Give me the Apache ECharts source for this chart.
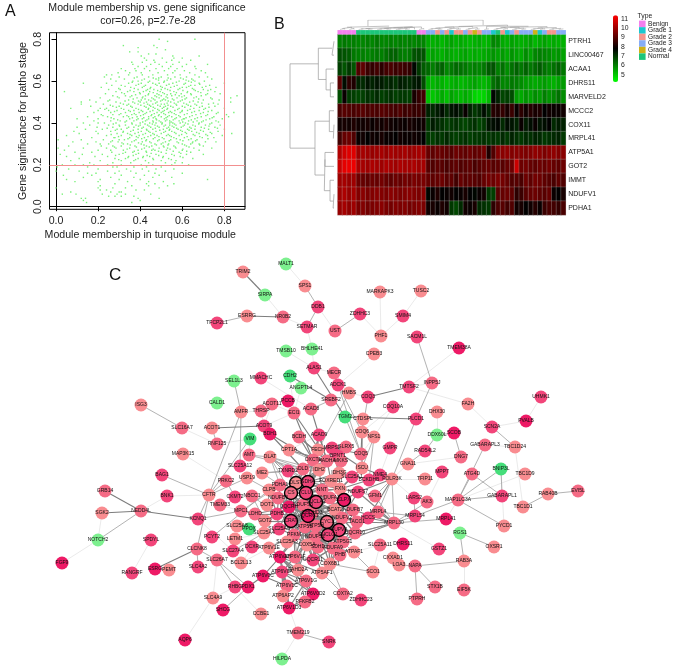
<!DOCTYPE html>
<html><head><meta charset="utf-8">
<style>html,body{margin:0;padding:0;background:#fff}#c{width:677px;height:670px}</style>
<script src="https://cdn.jsdelivr.net/npm/echarts@6/dist/echarts.min.js"></script>
</head><body><div id="c"></div>
<script>
/* ---------- A: scatter, rows of [gene significance, [module membership ...]] ---------- */
const scatterRows = [
[.80,[.49,.66]],[.79,[.53]],[.77,[.32,.465]],[.76,[.48,.39]],[.75,[.52]],[.74,[.39,.35]],[.73,[.44,.475]],[.72,[.555,.68,.405]],
[.71,[.56,.505,.42,.6]],[.70,[.55,.43,.64,.465]],[.69,[.41,.47,.525,.585,.36]],[.68,[.365,.45,.555,.62,.72,.49]],[.67,[.43,.505,.6,.39,.545,.66]],[.66,[.375,.475,.535,.575,.665,.42,.31]],
[.65,[.33,.445,.515,.61,.69,.565,.38]],[.64,[.295,.405,.485,.555,.635,.35,.71]],[.63,[.265,.345,.46,.53,.59,.66,.24,.41]],[.62,[.23,.3,.385,.5,.565,.62,.72,.44,.68]],[.61,[.325,.42,.475,.545,.605,.645,.26,.74]],
[.60,[.285,.365,.445,.515,.585,.66,.705,.39,.63]],[.59,[.13,.345,.405,.49,.555,.615,.68,.46,.8,.24]],[.58,[.265,.38,.425,.525,.575,.64,.73,.48,.31,.66]],[.57,[.215,.355,.45,.505,.6,.695,.545,.41,.76,.62]],
[.56,[.305,.39,.465,.53,.58,.655,.735,.435,.25,.7,.5]],[.55,[.285,.37,.415,.495,.56,.625,.675,.755,.34,.445,.04]],[.54,[.235,.325,.4,.48,.515,.595,.64,.72,.545,.44,.78]],[.53,[.27,.36,.425,.47,.55,.61,.69,.5,.585,.33,.86]],
[.52,[.21,.3,.385,.455,.53,.575,.655,.735,.49,.62,.83,.41]],[.51,[.255,.345,.405,.505,.56,.6,.7,.44,.775,.52,.47,.16]],[.50,[.19,.285,.365,.43,.48,.545,.635,.675,.83,.58,.4,.12]],
[.49,[.225,.32,.39,.46,.515,.57,.62,.725,.345,.66,.12,.435,.5,.77]],[.48,[.165,.27,.355,.42,.495,.545,.6,.695,.64,.45,.3,.755,.52]],[.47,[.07,.24,.31,.38,.44,.53,.585,.655,.47,.71,.505,.8,.21]],
[.46,[.2,.29,.345,.405,.46,.515,.565,.625,.68,.74,.37,.49,.6,.25]],[.45,[.26,.33,.395,.43,.48,.535,.59,.645,.77,.7,.5,.18,.55,.845]],[.44,[.215,.3,.36,.415,.455,.52,.57,.61,.72,.665,.49,.81,.27,.38]],
[.43,[.15,.245,.32,.385,.44,.5,.55,.635,.69,.75,.59,.47,.345,.82,.53]],[.42,[.1,.275,.35,.41,.475,.515,.565,.66,.605,.73,.44,.2,.39,.79,.61]],[.41,[.18,.305,.37,.425,.49,.54,.585,.63,.7,.46,.26,.335,.76,.52,.67]],
[.40,[.13,.23,.285,.4,.445,.505,.555,.615,.68,.74,.36,.475,.59,.54,.2]],[.39,[.25,.33,.38,.435,.52,.57,.65,.71,.47,.61,.3,.78,.16,.54,.4]],[.38,[.195,.27,.345,.415,.49,.535,.595,.635,.69,.755,.45,.37,.56,.1]],
[.37,[.22,.31,.39,.46,.51,.58,.66,.725,.8,.625,.43,.54,.29,.14]],[.36,[.085,.26,.355,.405,.475,.55,.6,.645,.7,.44,.32,.77,.52,.19]],[.35,[.2,.29,.375,.425,.5,.57,.62,.68,.74,.835,.34,.46,.11]],
[.34,[.05,.24,.31,.395,.45,.525,.585,.66,.72,.79,.54,.48,.36]],[.33,[.17,.275,.35,.42,.505,.56,.61,.695,.28,.75,.47,.39]],[.32,[.01,.12,.225,.325,.38,.49,.545,.63,.67,.43,.59,.3]],
[.31,[.08,.19,.295,.36,.445,.52,.575,.65,.71,.41,.26,.76]],[.30,[.15,.25,.34,.405,.47,.535,.6,.68,.5,.32,.64,.21]],[.29,[.06,.215,.31,.375,.455,.51,.56,.62,.43,.7,.27]],
[.28,[.01,.13,.285,.35,.42,.49,.57,.655,.53,.24,.74]],[.27,[.04,.2,.32,.39,.455,.525,.6,.47,.68,.26]],[.26,[.09,.17,.265,.365,.43,.5,.585,.64,.33]],
[.25,[.02,.125,.3,.38,.475,.55,.62,.22,.7]],[.24,[.05,.185,.245,.345,.415,.51,.59,.445]],[.23,[.11,.28,.39,.46,.535,.65,.33]],[.22,[.07,.21,.31,.425,.5,.57,.37]],
[.21,[.27,.355,.44,.52,.565,.6,.16]],[.20,[.03,.09,.13,.18,.245,.31,.405,.46,.55,.63]],[.19,[.005,.15,.29,.37,.43,.5,.27]],[.18,[.06,.2,.335,.41,.475,.56]],
[.17,[.0,.11,.245,.355,.44,.52,.3]],[.16,[.15,.19,.38,.47,.6,.28]],[.15,[.035,.17,.31,.42,.49]],[.14,[.13,.26,.37,.46,.55]],[.13,[.05,.3,.4,.72,.21]],
[.12,[.09,.2,.34,.51,.44]],[.11,[.28,.43,.47,.56]],[.10,[.44,.21,.36,.53]],[.09,[.0,.2,.27,.49,.33]],[.08,[.21,.24,.38,.42]],[.07,[.3,.31,.07,.26]],
[.06,[.03,.095,.29,.33,.45,.22]],[.05,[.25,.28,.31,.37]],[.04,[.12,.49,.39,.14]],[.03,[.13,.4]],[.02,[.145,.36]]
];
/* the dense middle of the cloud */
const scatterRowsDense = [
[.615,[.372,.462,.533,.592,.488]],[.605,[.408,.487,.528,.618,.652]],[.595,[.362,.438,.512,.572,.643]],[.585,[.392,.473,.537,.608,.683]],[.575,[.328,.418,.497,.562,.631,.712]],
[.565,[.372,.447,.518,.588,.648,.298]],[.555,[.352,.428,.483,.542,.603,.662,.722]],[.545,[.312,.397,.462,.507,.572,.623,.688]],[.535,[.378,.438,.489,.528,.567,.643,.712]],[.525,[.292,.352,.413,.478,.523,.598,.667]],
[.515,[.367,.423,.463,.512,.553,.613,.678,.742]],[.505,[.247,.328,.392,.451,.497,.533,.591,.652]],[.495,[.306,.374,.418,.473,.528,.562,.607,.693,.748]],[.485,[.258,.337,.403,.444,.483,.532,.573,.628,.668]],[.475,[.287,.362,.428,.462,.512,.556,.612,.682,.727]],
[.465,[.232,.322,.392,.438,.483,.527,.578,.637,.702]],[.455,[.278,.353,.412,.447,.508,.543,.598,.658,.723]],[.445,[.308,.372,.423,.467,.512,.562,.623,.687,.762]],[.435,[.223,.337,.402,.452,.487,.538,.583,.647,.712]],[.425,[.262,.363,.417,.462,.523,.572,.618,.672,.742]],
[.415,[.293,.383,.432,.478,.527,.557,.598,.643,.713]],[.405,[.328,.412,.462,.498,.547,.602,.652,.692,.772]],[.395,[.272,.362,.423,.458,.503,.563,.627,.678,.731]],[.385,[.302,.392,.442,.482,.513,.552,.604,.662,.727]],[.375,[.243,.337,.408,.472,.527,.573,.642,.705,.767]],
[.365,[.282,.367,.432,.493,.538,.592,.632,.687]],[.355,[.318,.391,.447,.512,.563,.614,.668,.733]],[.345,[.262,.352,.413,.467,.533,.597,.652,.712]],[.335,[.297,.382,.437,.489,.548,.623,.683]],[.325,[.342,.407,.462,.513,.572,.642,.722]],
[.315,[.268,.372,.427,.483,.538,.603,.663]],[.305,[.313,.392,.452,.508,.582,.648]],[.295,[.353,.418,.477,.532,.611,.683]],[.285,[.278,.382,.443,.513,.567,.632]],[.275,[.338,.407,.462,.542,.603]],[.265,[.372,.428,.487,.557,.621]],
[.255,[.318,.392,.452,.523,.593]],[.245,[.283,.367,.433,.488,.562]],[.235,[.342,.412,.507,.603]],[.225,[.298,.378,.463,.548]]
];
const scatterTicks = [0, 0.2, 0.4, 0.6, 0.8];
const scatterCutX = 0.8, scatterCutY = 0.2;

/* ---------- B: heat map ---------- */
const geneNames = ['PTRH1','LINC00467','ACAA1','DHRS11','MARVELD2','MCCC2','COX11','MRPL41','ATP5A1','GOT2','IMMT','NDUFV1','PDHA1'];
const rowPTRH1 = [6,6.1,6,6,5.9,5.9,6,5.9,6.1,5.9,5.9,6,5.9,6,5.9,6,5.9,6,5.9, 5.4,5.3,5.4,5.2,5.4,5.5,5.3,5.4,5.3,5.2,5.3,5.4,5.2,5.3,5.9,5.8,5.4,5.3,5.5,5.4,5.3,5.4,5.5,5.2,5.4,5.5,5.3,5.4,5.3,5.3];
const rowLINC = [6.7,6.6,6.5,6.1,6,6,5.9,6,6.1,6,6.2,6.4,6.4,6.1,6,6.1,6.6,6.7,6.6, 5.4,5.5,5.4,5.3,5.5,5.4,5.3,5.4,5.5,5.3,5.4,5.3,5.4,5.5,5.7,5.5,5.6,5.4,5.7,5.5,5.4,5.8,5.5,5.9,6,5.9,5.8,5.6,5.7,5.5];
const rowACAA = [6.9,6.6,7,6.6,8.9,9.1,8.6,8.5,8.7,8.4,8.7,8.8,8.6,8.7,8.6,8.5,7.7,7,6.5, 6.3,6,6.3,6.4,5.9,6.1,6.3,6.2,6.1,5.9,6,5.9,6.1,6.5,6.6,6,6.2,5.8,6.2,6.4,6.1,6.4,6.1,6.3,6.5,6.2,6,6.2,6.4,6.1];
const rowDHRS = [9,7.6,8.4,8.2,7.3,7.2,7.5,7.3,7.5,7.4,7.2,7.3,7.1,7.4,7.3,7.2,7.4,7.5,6.7, 5.4,5.2,5.4,5.3,5.1,5.3,5.4,5.2,5.3,5.4,5.5,5.3,5.2,5.4,6.2,6.4,5.9,5.9,6.1,6,5.8,5.6,5.5,5.4,5.5,5.6,5.4,5.3,5.5,5.6];
const rowMARV = [6.7,7.9,7,6.9,6.8,6.9,7.1,7,7.2,6.9,7,7.1,6.9,7,7,6.9,8.1,8.5,8.7, 5.1,5,5.2,5.4,5.1,5.5,5.3,5.2,5.4,5.2,4.8,4.7,4.8,5.2,7.7,7.3,6.8,6.9,6.7,5.6,5.4,5.7,5.5,5.8,5.6,6,5.7,5.9,6.2,5.8];
const rowMCCC = [8.8,9,8.9,8.8,8.9,9,8.8,8.9,8.8,9,8.9,8.8,8.7,8.9,8.6,8.7,8.5,8.6,8.4, 7.3,7.2,7.4,7.6,7.2,7.5,7.6,7.4,7.9,7.3,7,7.2,7.6,7.2,8.3,8.2,8.5,8.1,8.6,7.9,8.4,8,8.3,8.1,8.2,7.8,8,7.9,7.9,8];
const rowCOX = [8,8.1,8,8.2,8,8,8.1,7.9,8.1,8,8.2,8,7.9,8,7.9,8.1,8,7.9,8, 7,7.4,7.2,7.1,6.9,7,7.1,6.9,6.8,7,7.1,6.8,7,7.5,7.6,7.7,7.2,7.6,7.5,7.3,7.9,7.4,7.6,7.9,7.5,7.6,7.8,7.2,7.4,7.3];
const rowMRPL = [8.7,9.2,9.3,8.9,7.9,8,7.8,8,7.9,8.1,7.9,7.9,7.8,8,7.9,7.9,8,7.9,7.8, 7,6.9,7.1,7,7.2,7,6.9,7,7.1,6.9,7,7,7.1,7,7.1,7,7.2,7,7.3,7.1,7,7.2,7.1,7.3,7.2,7,7.1,7.2,7.3,7];
const rowATP = [10.3,10.7,10.9,10.9,10,10.1,10,9.9,10,10.1,9.9,10.1,10,10,10.1,9.9,10,10.1,10, 9.2,9.1,9.3,9.2,9.1,9,9.3,9.2,9.1,9.3,9.1,9.2,9.4,8.2,8.9,9.6,9.7,9.8,9.6,9.7,9.6,9.5,9.6,9.8,9.7,9.5,9.7,9.8,9.6,9.7];
const rowGOT = [10.6,11,11.1,11.1,10.2,10.1,10,10.2,10.1,10,10.2,10.1,10,10.2,10.1,10.1,10.2,10,10.1, 9,8.9,9.1,9,8.8,9,9.1,8.9,9,9.1,8.8,9,9.1,9.2,9,9.1,9,9.2,9.3,10.6,9.3,9.4,9.2,9.1,9.3,9.2,9.4,9.2,9.1,9.3];
const rowIMMT = [10,10.1,9.9,10,9.3,9.2,9.1,9.3,9.2,9.4,9.2,9.1,9.3,9.2,9.4,9.3,9.5,9.4,9.5, 9.2,9.1,9.2,9.3,9,9.1,8.7,9.2,9,9.1,9,8.9,9.2,9.4,9.3,9.5,9.4,9.2,8.9,9,8.8,9.3,9.1,9.4,9.3,9.1,9,8.8,9.1,8.9];
const rowNDUF = [10,10.2,9.9,10.1,9.6,9.7,9.5,9.6,9.7,9.6,9.5,9.7,9.6,9.5,9.6,9.7,9.6,9.5,9.7, 7.7,7.9,8.2,7.8,7.9,8,7.8,7.9,8.1,7.8,7.7,7.9,8,7,6.9,9,9.2,9.3,9.1,8.4,8.6,9,9.2,9.3,9.1,9,9.2,7.9,7.8,8.1];
const rowPDHA = [9.9,10.1,9.8,10,9.5,9.6,9.4,9.5,9.6,9.7,9.5,9.4,9.6,9.5,9.6,9.4,9.5,9.6,9.5, 8,8.1,7.9,8.2,8,7,6.8,7.2,8,7.9,8.1,7.2,7.1,7,8.4,8.8,9,8.7,8.9,8,8.1,7.8,8,8.3,7.9,8.6,8.8,8.7,8.5,8.8];
const heatRows = [rowPTRH1,rowLINC,rowACAA,rowDHRS,rowMARV,rowMCCC,rowCOX,rowMRPL,rowATP,rowGOT,rowIMMT,rowNDUF,rowPDHA];
const sampleType = [0,0,0,0,5,5,5,5,5,5,5,5,5,5,5,5,5,0,0,3,3,2,3,2,1,2,2,3,2,4,2,3,3,1,5,2,1,3,2,3,3,3,4,1,3,2,2,3,3];
const typeNames = ['Benign','Grade 1','Grade 2','Grade 3','Grade 4','Normal'];
const typeColors = ['#F47FEE','#1CC8CF','#F6958C','#86ADF6','#CFB216','#1CC679'];
const scaleColors = ['#00FF00','#000000','#FF0000'];
const scaleTicks = [4,5,6,7,8,9,10,11,12];
/* dendrogram merges: [child a position, child b position, child a height, child b height, merge height] */
const rowMerges = [[.5,1.5,0,0,.045],[3.5,4.5,0,0,.083],[2.5,4,0,.083,.18],[1,3.25,.045,.18,.356],[6.5,7.5,0,0,.015],[5.5,7,0,.015,.106],[8.5,9.5,0,0,.205],[11.5,12.5,0,0,.02],[10.5,12,0,.02,.09],[9,11.25,.205,.09,.22],[6.25,10.125,.106,.22,.432],[2.125,8.19,.356,.432,1]];
const colMerges = [[.5,1.5,0,0,.1],[2.5,3.5,0,0,.12],[1,3,.1,.12,.24],[4.5,5.5,0,0,.06],[6.5,7.5,0,0,.05],[5,7,.06,.05,.1],[8.5,9.5,0,0,.05],[10.5,11.5,0,0,.06],[9,11,.05,.06,.12],[12.5,13.5,0,0,.05],[14.5,15.5,0,0,.06],[13,15,.05,.06,.11],[10,14,.12,.11,.18],[12,16.5,.18,0,.22],[17.5,18.5,0,0,.1],[14.25,18,.22,.1,.27],[6,16.1,.1,.27,.3],[2,11.05,.24,.3,.36],
[19.5,20.5,0,0,.06],[21.5,22.5,0,0,.05],[20,22,.06,.05,.14],[23.5,24.5,0,0,.07],[25.5,26.5,0,0,.05],[24,26,.07,.05,.16],[21,25,.14,.16,.26],[27.5,28.5,0,0,.06],[29.5,30.5,0,0,.05],[28,30,.06,.05,.2],[23,29,.26,.2,.32],[31.5,32.5,0,0,.06],[33.5,34.5,0,0,.06],[35.5,36.5,0,0,.1],[34,36,.06,.1,.2],[37.5,38.5,0,0,.05],[39.5,40.5,0,0,.06],[38,40,.05,.06,.14],[35,39,.2,.14,.24],[41.5,42.5,0,0,.05],[43.5,44.5,0,0,.08],[42,44,.05,.08,.16],[45.5,46.5,0,0,.05],[47.5,48.5,0,0,.06],[46,48,.05,.06,.12],[43,47,.16,.12,.2],[37,45,.24,.2,.3],[32,41,.06,.3,.34],[26,36.5,.32,.34,.46],[6.5,31.25,.36,.46,1]];

/* ---------- C: network, [gene, layout x, layout y, shade, hub ring] ---------- */
const shadeColors = ['#7DF08F','#45DE7A','#F98C90','#F56B85','#F2457A','#EE1A66'];
const networkNodes = [
['MALT1',286,264,0],['TRIM2',243,272,2],['SPS1',305,286,2],['SIRPA',265,295,0],['DDB1',318,307,4],['NR0B2',283,317,3],['ESRRG',247,316,2],['TFCP2L1',217,323,4],['SETMAR',307,327,4],['UST',335,331,3],
['BHLHE41',312,349,0],['TMSB10',286,351,0],['ALAS1',314,368,4],['MECR',334,373,3],['ADCK1',338,385,4],['HMBS',349,393,2],['CDH2',290,376,1],['MMACHC',261,378,4],['SEL1L3',234,381,0],['ANGPTL4',301,388,0],
['SREBF2',331,400,3],['ISG3',141,405,2],['CALD1',217,403,0],['PCCB',288,401,5],['ACOT11',272,404,3],['THRSP',261,411,3],['AMFR',241,412,2],['ECI1',294,413,3],['ACAD8',311,409,3],['TGM2',345,417,1],
['SLC16A7',182,428,3],['ACOT1',212,428,2],['ACOT9',264,426,4],['BDH1',270,434,5],['ACAD9',319,435,4],['BCDH',299,437,3],['VIM',250,439,1],['RNF125',217,444,3],['CPT1A',289,450,2],['FECH',318,450,2],
['MRPS2',332,448,4],['GLRX5',346,447,3],['MAP3K15',183,454,2],['AMT',249,455,3],['DLAT',270,457,2],['BPNT1',338,456,4],['MKKS',341,461,3],['OXCT1',313,460,3],['HADHA',327,461,3],['SLC25A12',240,466,4],
['TXNRD2',288,471,4],['DLD',303,469,3],['IDH2',319,470,2],['IDH3G',339,473,2],['ISCU',362,468,2],['COQ5',361,454,3],['COQ6',362,432,2],['CTDSPL',363,419,2],['NFS1',374,437,2],['GMPR',390,448,4],
['NME4',380,475,4],['BCKDHB',369,480,4],['SLC25A1',352,477,4],['POLR3K',392,479,2],['NDUFS7',358,492,4],['GFM1',375,496,3],['FOXRED1',331,481,2],['ME2',262,473,2],['USP19',247,478,2],['PRKC2',226,481,3],
['CFTR',209,495,2],['CKMT2',235,497,4],['NBCC1',252,496,3],['TMEM33',220,505,3],['CLPB',269,490,2],['PDHA1',280,485,3],['NNT',322,490,3],['FXN',340,489,2],['NDUFA2',330,498,3],
['DOT1',267,505,2],['NDUFB3',278,498,3],['UQCRH',289,507,5],['NDUFS3',303,505,3],['MPC1',241,511,3],['LDHD',255,514,3],['PDHB',277,514,4],['CHCHD3',312,513,3],['BCAT2',335,510,2],['NDUFB7',353,510,3],
['GOT2',265,521,2],['NDUFV2',342,518,3],['ATP5H',316,526,3],['ATP5B',305,527,3],['HCCS',368,518,4],['TACO1',357,522,3],['MRPL4',378,512,3],['MRPL30',394,523,3],['UQCR10',355,533,3],
['SLC25A5',279,529,4],['SLC25A8',237,526,2],['PPOX',249,529,1],['LETM1',235,539,2],['SLC25A4',264,533,2],['PCYT2',212,537,4],['KCNQ1',198,519,4],['PFKM',294,535,3],['NDUFS2',315,537,3],['ATP5G1',343,542,3],
['SLC25A11',380,545,3],['COX5A',307,545,2],['SDHD',318,547,3],['NDUFA9',333,548,3],['ATPAF1',354,552,2],['SLC25A3',287,542,2],['ATP6V1E',269,548,2],['DCXR',252,547,4],['SLC27A4',233,551,4],['BAG1',162,475,4],
['GRB14',105,491,3],['BNK1',167,496,4],['NEDD4L',141,511,3],['SGK2',102,513,2],['NOTCH2',98,540,0],['SPDYL',151,540,4],['FGF9',62,563,5],['CLCNK8',197,549,3],['ESRG',155,569,5],['PEMT',169,570,2],
['RANGRF',132,573,4],['SLC4A2',198,567,4],['SLC26A7',217,560,3],['BCL2L13',241,563,2],['SLC4A9',213,598,2],['RHBG',235,587,4],['PDX1',248,587,5],['SHCG',223,610,5],['CCBE1',261,614,2],['AQP6',185,640,5],
['TMEM219',298,633,3],['SNRK',329,642,4],['HILPDA',282,659,0],['ATP6V0C',263,576,5],['ATP6V1H',280,557,5],['ATP6V1F',295,557,3],['FAHD2A',298,570,2],['ATP6V0A',282,572,4],['ATP6V1G',306,581,3],['ATP5AF1',322,573,2],
['UQCR11',313,560,4],['COX6B1',330,564,2],['ATP6V1C',287,586,3],['ATP6AP2',283,596,2],['ATP6V0D2',313,594,5],['PFKFB2',305,602,3],['ATP6V1D3',289,608,5],['COX7A2',343,594,3],['PHB',340,555,3],
['MARKAPK3',380,292,2],['TUSC2',421,291,2],['ZDHHC3',360,314,4],['SMIM4',403,316,4],['PHF1',381,336,2],['SACM1L',417,337,4],['TMEM38A',459,348,5],['CPEB3',374,354,2],['INPP5J',432,383,3],['TMTSF2',409,387,4],
['COQ3',368,397,4],['FA2H',468,404,2],['UHMK1',541,397,4],['PVALB',526,421,5],['COQ10A',393,407,4],['DHX30',437,412,2],['PLCD1',416,419,4],['SCN2A',492,427,4],['DDX60L',437,435,0],['SCOB',454,433,5],
['GABARAPL3',485,445,3],['TBC1D24',515,447,2],['RAD54L2',425,451,4],['DNG7',461,457,3],['GNA11',408,464,2],['MPP7',442,472,4],['ATG4D',472,474,3],['BNIP3L',501,469,1],['TBC1D9',525,474,2],['TFIP11',425,479,2],
['MAP1LC3A',458,500,3],['GABARAPL1',502,496,4],['RAB40B',548,494,2],['EVI5L',578,491,3],['TBC1D1',523,507,2],['LARS2',414,498,4],['AK3',427,502,3],['MRPL54',415,516,4],['MRPL41',446,519,5],['PYCD1',504,526,2],
['RGS1',460,533,0],['OXSR1',494,547,2],['DHRS11',403,544,5],['GSTZ1',439,549,4],['CXXAD1',393,558,2],['LOA3',399,565,2],['NAPA',415,566,3],['RAB3A',464,561,2],['SCO1',373,572,2],['STX1B',435,587,3],
['EIF5K',464,590,3],['PTPRH',417,599,3],['ZDHHC23',361,600,4],
['DLST',296,483,2,1],['SDHA',308,482,4,1],['CS',291,493,3,1],['CLU',306,493,4,1],['SUCLA2',316,502,4,1],['CLPX',344,500,5,1],['CRAT',291,521,4,1],['UQCRC1',308,516,5,1],['CYC1',327,522,3,1],['SUPV3',339,530,4,1],['SUCLG1',328,535,4,1]
];
const heavyEdges = 'TRIM2-SIRPA NR0B2-ESRRG NEDD4L-GRB14 NEDD4L-SGK2 NEDD4L-KCNQ1 CLCNK8-ESRG ACOT1-ACOT9 ALAS1-TGM2 CDH2-SREBF2 COQ3-TMTSF2 PLCD1-TGM2 BDH1-OXCT1 BDH1-DLD ACAD9-OXCT1 ECI1-OXCT1 ECI1-HADHA BCDH-HADHA ACAD8-HADHA COQ5-COQ6 ATP6V0C-ATP6V1H ATP6V0C-ATP6V0A ATP6V1H-ATP6V1F ATP6V1H-ATP6V0A ATP6V1F-FAHD2A ATP6V1G-ATP6V0D2 ATP6V1C-ATP6V1G ATP6V1C-ATP6V0C ATP6AP2-ATP6V1C ATP6V1D3-ATP6V0D2 PDX1-ATP6V0C ATP5AF1-COX6B1 ATP5G1-PHB';
const midEdges = 'SPS1-DDB1 DDB1-SETMAR ESRRG-TFCP2L1 ZDHHC3-UST SACM1L-INPP5J INPP5J-PLCD1 SCN2A-TBC1D24 SEL1L3-AMFR ISG3-SLC16A7 NEDD4L-NOTCH2 CFTR-BAG1 CFTR-CLCNK8 CFTR-KCNQ1 AMFR-CFTR VIM-CFTR ACOT1-RNF125 PLCD1-POLR3K DDX60L-RAD54L2 DDX60L-SCOB SCOB-DNG7 RAD54L2-GNA11 GABARAPL3-MAP1LC3A ATG4D-MAP1LC3A ATG4D-GABARAPL1 BNIP3L-GABARAPL1 BNIP3L-MAP1LC3A MAP1LC3A-GABARAPL1 MAP1LC3A-PYCD1 RAB40B-TBC1D1 RAB40B-EVI5L MAP1LC3A-MRPL54 MRPL41-MRPL30 RGS1-OXSR1 RGS1-RAB3A RAB3A-NAPA NAPA-STX1B NAPA-PTPRH NAPA-LOA3 CLCNK8-SLC26A7 CLCNK8-SLC4A2 SLC26A7-PDX1 PDX1-SHCG TMEM219-SNRK RHBG-PDX1 SLC26A7-RHBG MRPL30-MRPL54 MRPL54-LARS2 MRPL30-AK3 MRPL30-GFM1 POLR3K-MRPL30 POLR3K-MRPL4 POLR3K-GFM1 GFM1-NDUFS7 MRPL4-MRPL54 MRPL30-UQCR10 COQ6-ISCU NFS1-ISCU COQ5-ISCU COQ6-COQ3 NFS1-BCKDHB SREBF2-ACAD8 AMT-DLAT CFTR-PRKC2 CFTR-USP19 PRKC2-CKMT2 MPC1-PDHA1 MPC1-LDHD KCNQ1-MPC1 AMFR-SLC25A12 AMT-DLD ME2-DLD DLAT-DLD DLAT-DLST DLAT-PDHA1 DLAT-TXNRD2 DLAT-SDHA DLAT-IDH2 DLAT-CS DLAT-CLU DLAT-NNT ME2-PDHA1 ME2-IDH2 USP19-CLPB NBCC1-PDHB NBCC1-GOT2 TXNRD2-NNT SLC25A3-ATP5B SCO1-ATP5G1 COX7A2-COX6B1 COX7A2-ATP5AF1 COX6B1-SCO1 PFKFB2-PFKM PFKM-ATP6V1F PHB-NDUFS2 PCYT2-CLPB SLC27A4-SLC25A4 ACAD9-FECH FECH-SDHA CPT1A-HADHA CPT1A-OXCT1 ADCK1-COQ5 ADCK1-COQ6 HMBS-FECH TGM2-COQ5 CTDSPL-COQ6';
const lightEdges = 'MALT1-SPS1 NR0B2-SIRPA NR0B2-SETMAR DDB1-UST SETMAR-BHLHE41 BHLHE41-ALAS1 TMSB10-ALAS1 CDH2-ANGPTL4 ANGPTL4-ECI1 CDH2-ECI1 SLC16A7-RNF125 MMACHC-ACAD8 MARKAPK3-PHF1 TUSC2-SMIM4 SMIM4-PHF1 PHF1-ZDHHC3 TMEM38A-TMTSF2 INPP5J-TMTSF2 TMTSF2-FA2H FA2H-SCN2A SCN2A-PVALB PVALB-UHMK1 COQ3-HMBS CPEB3-ADCK1 COQ10A-COQ6 COQ10A-NFS1 DHX30-DDX60L GNA11-DNG7 TBC1D24-TBC1D1 BNIP3L-PYCD1 TBC1D9-MAP1LC3A GABARAPL3-TBC1D24 MRPL41-MAP1LC3A RAB3A-EIF5K MRPL30-GSTZ1 SGK2-NOTCH2 NOTCH2-FGF9 NEDD4L-BNK1 SPDYL-RANGRF SLC26A7-SLC4A9 RHBG-SLC4A9 SLC4A9-AQP6 TMEM219-HILPDA TMEM219-ATP6V1D3 MAP3K15-PRKC2 ACOT11-ACOT9 THRSP-ACOT9 ACOT11-ECI1 THRSP-AMFR PCCB-ECI1 VIM-AMT ACOT9-ECI1 MECR-HMBS ALAS1-MECR ZDHHC23-COX7A2 RNF125-VIM TFIP11-POLR3K GNA11-POLR3K MPP7-AK3 LARS2-POLR3K CXXAD1-LOA3 SCO1-SLC25A11 SLC25A11-ATPAF1 KCNQ1-SLC27A4 BNK1-CFTR TMEM33-MPC1 DCXR-SLC25A3 LETM1-SLC25A4 BCL2L13-ATP6V1E RHBG-CCBE1 BCL2L13-SLC25A4 CTDSPL-COQ5 NFS1-COQ5 GLRX5-COQ5 GMPR-NME4 CPT1A-ACAD9';
const coreHubs = [
'SUCLA2:DLST SDHA CS CLU CLPX CRAT UQCRC1 CYC1 SUPV3 SUCLG1 NDUFS3 NDUFA2 NNT CHCHD3 BCAT2 NDUFV2 ATP5H ATP5B NDUFS2 UQCRH PFKM COX5A SDHD',
'UQCRC1:CS CLU CRAT CYC1 SUPV3 SUCLG1 NDUFS3 NDUFA2 CHCHD3 ATP5H ATP5B PFKM NDUFS2 COX5A SDHD SLC25A3 UQCRH PDHB SLC25A5 NDUFB3 NDUFV2 ATP5G1 NDUFA9 BCAT2 CLPX',
'CYC1:CRAT SUPV3 SUCLG1 NDUFS3 CHCHD3 BCAT2 NDUFV2 ATP5H ATP5B PFKM NDUFS2 COX5A SDHD UQCR10 NDUFB7 CLPX ATP5G1 NDUFA9 TACO1 COX6B1 UQCR11 PHB UQCRH SLC25A3 NDUFB3',
'ATP5B:CRAT SUPV3 SUCLG1 ATP5H PFKM NDUFS2 COX5A SDHD SLC25A3 SLC25A5 UQCRH ATP6V1F ATP5G1 NDUFA9 UQCR11 ATP6V1H FAHD2A ATP5AF1 NDUFS3 CHCHD3',
'ATP5H:SUPV3 SUCLG1 PFKM NDUFS2 COX5A SDHD NDUFA9 NDUFS3 ATP5G1 UQCR10 COX6B1 ATP6V1F UQCR11 CRAT CHCHD3',
'NDUFS3:CRAT NDUFA2 CHCHD3 NDUFB3 UQCRH PDHB CLU CS NDUFV2 NDUFS2 NDUFB7 BCAT2 SUPV3 SUCLG1 COX5A PFKM',
'NDUFS2:SUCLG1 SUPV3 COX5A SDHD NDUFA9 NDUFV2 PFKM ATP5G1 UQCR10 CRAT UQCRH CHCHD3',
'SUCLG1:SUPV3 PFKM COX5A SDHD NDUFA9 ATP5G1 UQCR10 NDUFV2 CHCHD3 CRAT BCAT2',
'CRAT:CS CLU UQCRH PDHB CHCHD3 PFKM COX5A SLC25A3 SLC25A5 NDUFB3 GOT2 DLST',
'CHCHD3:CS CLU NDUFA2 NNT BCAT2 UQCRH SUPV3 NDUFV2 CLPX',
'NDUFV2:CLPX BCAT2 NDUFB7 NDUFA2 SUPV3 ATP5G1 NDUFA9 TACO1 UQCR10 NDUFS7 HCCS',
'CS:DLST SDHA CLU PDHA1 PDHB NNT NDUFB3 UQCRH IDH2 FOXRED1',
'CLU:DLST SDHA NNT FXN NDUFA2 UQCRH IDH2 FOXRED1',
'DLST:SDHA PDHA1 DLD IDH2 OXCT1 TXNRD2',
'SDHA:DLD IDH2 IDH3G FOXRED1 NNT FXN OXCT1 HADHA BPNT1',
'NNT:FXN IDH2 IDH3G FOXRED1 NDUFA2',
'OXCT1:DLD HADHA IDH2 ACAD9 BPNT1 MKKS BCDH',
'HADHA:IDH2 DLD MRPS2 MKKS FOXRED1 ACAD9 BCDH CPT1A',
'CLPX:FXN BCAT2 NDUFB7 NDUFA2 SUPV3 NDUFS7 TACO1',
'UQCRH:PDHB NDUFB3 LDHD GOT2 SLC25A5 SUPV3 PFKM',
'PDHB:PDHA1 LDHD GOT2 DOT1 CLPB SLC25A5',
'PFKM:SLC25A3 COX5A SLC25A5 ATP6V1H ATP6V1F ATP6V1E',
'ATP5G1:NDUFA9 UQCR10 COX6B1 ATP5AF1 UQCR11 PHB TACO1 SDHD',
'COX5A:SDHD NDUFA9 UQCR11 COX6B1 SLC25A3 ATP6V1F FAHD2A',
'NDUFA9:SDHD PHB ATPAF1 UQCR11 COX6B1',
'ATP6V1H:ATP6V1E ATP6V1G ATP6V0D2 ATP6V1C UQCR11 ATP5AF1 FAHD2A',
'ATP6V0A:ATP6V1F ATP6V1G ATP6V0D2 FAHD2A ATP6V1C ATP6AP2 ATP6V1D3',
'ATP6V1D3:ATP6V1G ATP6V1C ATP6AP2 PFKFB2',
'MRPL30:MRPL4 HCCS TACO1 UQCR10 NDUFB7 ATP5G1 NDUFS7',
'POLR3K:ISCU NME4 BCKDHB SLC25A1 NDUFS7 HCCS',
'MRPS2:FECH BPNT1 MKKS IDH3G ISCU COQ5',
'FXN:IDH3G NDUFS7 SLC25A1 BCKDHB ISCU'
];

/* ---------- build ---------- */
const scatterData = [];
scatterRows.concat(scatterRowsDense).forEach(r => r[1].forEach(x => scatterData.push([x, r[0]])));

const heatData = [];
heatRows.forEach((row, r) => row.forEach((v, c) => heatData.push([c, r, v])));
const annotData = sampleType.map((t, c) => [c, 0, t]);
const colIdx = sampleType.map((_, i) => i);

function mergePath(merges, horizontal) {
  const out = [];
  merges.forEach(m => {
    const pts = [[m[0], m[2]], [m[0], m[4]], [m[1], m[4]], [m[1], m[3]]];
    pts.forEach(p => out.push(horizontal ? p : [p[1], p[0]]));
    out.push(['-', '-']);
  });
  return out;
}

const nodeIndex = {};
networkNodes.forEach((n, i) => nodeIndex[n[0]] = i);
const graphNodes = networkNodes.map(n => ({
  name: n[0], value: [n[1], n[2]],
  symbolSize: 13,
  itemStyle: n[4] ? {color: shadeColors[n[3]], borderColor: '#000', borderWidth: 1.4}
                  : {color: shadeColors[n[3]]}
}));
const graphLinks = [];
function addLink(a, b, style) {
  if (nodeIndex[a] === undefined || nodeIndex[b] === undefined) return;
  graphLinks.push({source: nodeIndex[a], target: nodeIndex[b], lineStyle: style});
}
const heavy = {color: '#7d7d7d', width: 1.1, opacity: 1};
const mid = {color: '#a0a0a0', width: 0.8, opacity: 1};
const light = {color: '#dcdcdc', width: 0.6, opacity: 1};
const core = {color: '#858585', width: 1.2, opacity: 1};
function pairs(str, style) { str.split(' ').forEach(p => { const q = p.split('-'); addLink(q[0], q[1], style); }); }
pairs(lightEdges, light); pairs(midEdges, mid); pairs(heavyEdges, heavy);
coreHubs.forEach(h => { const q = h.split(':'); q[1].split(' ').forEach(t => addLink(q[0], t, core)); });

const FONT = '"Liberation Sans", Arial, sans-serif';
const hidden = {show: false};
const valAxis = (grid, min, max, extra) => Object.assign({type: 'value', gridIndex: grid, min, max, show: false}, extra || {});

const typeLegend = [];
typeNames.forEach((t, i) => {
  typeLegend.push({type: 'rect', shape: {x: 639, y: 20.6 + i * 6.55, width: 6.6, height: 6.55}, style: {fill: typeColors[i]}});
  typeLegend.push({type: 'text', x: 648, y: 23.9 + i * 6.55, style: {text: t, font: '6.6px ' + FONT, fill: '#222', textVerticalAlign: 'middle'}});
});

const option = {
  animation: false,
  backgroundColor: '#fff',
  textStyle: {fontFamily: FONT},
  title: [
    {text: 'Module membership vs. gene significance', left: 147, top: 3, textAlign: 'center', padding: 0, textStyle: {fontSize: 10.6, fontWeight: 'normal', color: '#222', fontFamily: FONT}},
    {text: 'cor=0.26, p=2.7e-28', left: 148, top: 16, textAlign: 'center', padding: 0, textStyle: {fontSize: 10.6, fontWeight: 'normal', color: '#222', fontFamily: FONT}}
  ],
  grid: [
    {left: 49.5, top: 32.7, width: 195.5, height: 176.6, show: true, borderColor: '#000', borderWidth: 1, backgroundColor: 'transparent'},
    {left: 337.7, top: 34.3, width: 228, height: 180.7},
    {left: 337.7, top: 30.3, width: 228, height: 4},
    {left: 290, top: 34.3, width: 44, height: 180.7},
    {left: 337.7, top: 20, width: 228, height: 9.5},
    {left: 613, top: 9.4, width: 5, height: 74.6},
    {left: 0, top: 0, width: 677, height: 670}
  ],
  xAxis: [
    {type: 'value', gridIndex: 0, min: -0.031, max: 0.898, position: 'bottom', splitLine: hidden,
     name: 'Module membership in turquoise module', nameLocation: 'middle', nameGap: 20,
     nameTextStyle: {fontSize: 10.6, color: '#222', padding: [0, 14, 0, 0]},
     axisLine: {show: true, lineStyle: {color: '#000'}},
     axisTick: {show: true, length: 4.5, lineStyle: {color: '#000'}, customValues: scatterTicks},
     axisLabel: {fontSize: 10.6, color: '#222', margin: 6, customValues: scatterTicks, formatter: v => v.toFixed(1)}},
    {type: 'category', gridIndex: 1, data: colIdx, show: false},
    {type: 'category', gridIndex: 2, data: colIdx, show: false},
    valAxis(3, 0, 1, {inverse: true}),
    valAxis(4, 0, 49),
    valAxis(5, 0, 1),
    valAxis(6, 0, 677)
  ],
  yAxis: [
    {type: 'value', gridIndex: 0, min: -0.0124, max: 0.8315, splitLine: hidden,
     name: 'Gene significance for patho stage', nameLocation: 'middle', nameGap: 21,
     nameTextStyle: {fontSize: 10.6, color: '#222', padding: [0, 0, 0, 0]},
     axisLine: {show: true, lineStyle: {color: '#000'}},
     axisTick: {show: true, length: 4.5, lineStyle: {color: '#000'}, customValues: scatterTicks},
     axisLabel: {fontSize: 10.6, color: '#222', rotate: 90, margin: 6, customValues: scatterTicks, formatter: v => v.toFixed(1)}},
    {type: 'category', gridIndex: 1, data: geneNames, inverse: true, position: 'right',
     axisLine: hidden, axisTick: hidden, splitLine: hidden,
     axisLabel: {fontSize: 7, color: '#222', margin: 2.5, interval: 0}},
    {type: 'category', gridIndex: 2, data: ['Type'], show: false},
    valAxis(3, 0, 13, {inverse: true}),
    valAxis(4, 0, 1),
    {type: 'value', gridIndex: 5, min: 4, max: 12, interval: 1, position: 'right', splitLine: hidden, axisLine: hidden, axisTick: hidden,
     axisLabel: {fontSize: 6.8, color: '#222', margin: 3, customValues: scaleTicks.slice(1, -1)}},
    valAxis(6, 0, 670, {inverse: true})
  ],
  visualMap: [
    {type: 'continuous', seriesIndex: 1, min: 4.2, max: 11.36, inRange: {color: scaleColors}, show: true, calculable: false,
     left: 613, top: 15.3, itemWidth: 5, itemHeight: 66.7, padding: 0, text: null, hoverLink: false},
    {type: 'piecewise', seriesIndex: 2, show: false, pieces: typeColors.map((c, i) => ({value: i, color: c}))}
  ],
  series: [
    {type: 'scatter', xAxisIndex: 0, yAxisIndex: 0, data: scatterData, symbolSize: 1.4, symbol: 'rect',
     itemStyle: {color: '#72F072', opacity: 0.95}, silent: true,
     markLine: {silent: true, symbol: 'none', label: {show: false}, lineStyle: {color: '#F28F8F', width: 1, type: 'solid'},
                data: [{xAxis: scatterCutX}, {yAxis: scatterCutY}]}},
    {type: 'heatmap', xAxisIndex: 1, yAxisIndex: 1, data: heatData, silent: true,
     itemStyle: {borderColor: 'rgba(190,190,190,0.55)', borderWidth: 0.5}},
    {type: 'heatmap', xAxisIndex: 2, yAxisIndex: 2, data: annotData, silent: true,
     itemStyle: {borderColor: 'rgba(255,255,255,0.3)', borderWidth: 0.3}},
    {type: 'line', xAxisIndex: 3, yAxisIndex: 3, data: mergePath(rowMerges, false), showSymbol: false, connectNulls: false, silent: true,
     lineStyle: {color: '#9a9a9a', width: 0.7}},
    {type: 'line', xAxisIndex: 4, yAxisIndex: 4, data: mergePath(colMerges, true), showSymbol: false, connectNulls: false, silent: true,
     lineStyle: {color: '#9a9a9a', width: 0.6}},
    {type: 'graph', coordinateSystem: 'cartesian2d', xAxisIndex: 6, yAxisIndex: 6, layout: 'none', roam: false, silent: true,
     data: graphNodes, links: graphLinks, symbol: 'circle', edgeSymbol: ['none', 'none'],
     label: {show: true, position: 'inside', fontSize: 5, color: '#111', fontFamily: FONT},
     labelLayout: {hideOverlap: false}, z: 5}
  ],
  graphic: {elements: [
    {type: 'text', x: 5, y: 4, style: {text: 'A', font: '16px ' + FONT, fill: '#111'}},
    {type: 'text', x: 274, y: 17, style: {text: 'B', font: '16px ' + FONT, fill: '#111'}},
    {type: 'text', x: 109, y: 267, style: {text: 'C', font: '17px ' + FONT, fill: '#111'}},
    {type: 'text', x: 637.5, y: 13, style: {text: 'Type', font: '6.8px ' + FONT, fill: '#222'}}
  ].concat(typeLegend)}
};
echarts.init(document.getElementById('c'), null, {renderer: 'canvas', width: 677, height: 670}).setOption(option);
</script></body></html>
